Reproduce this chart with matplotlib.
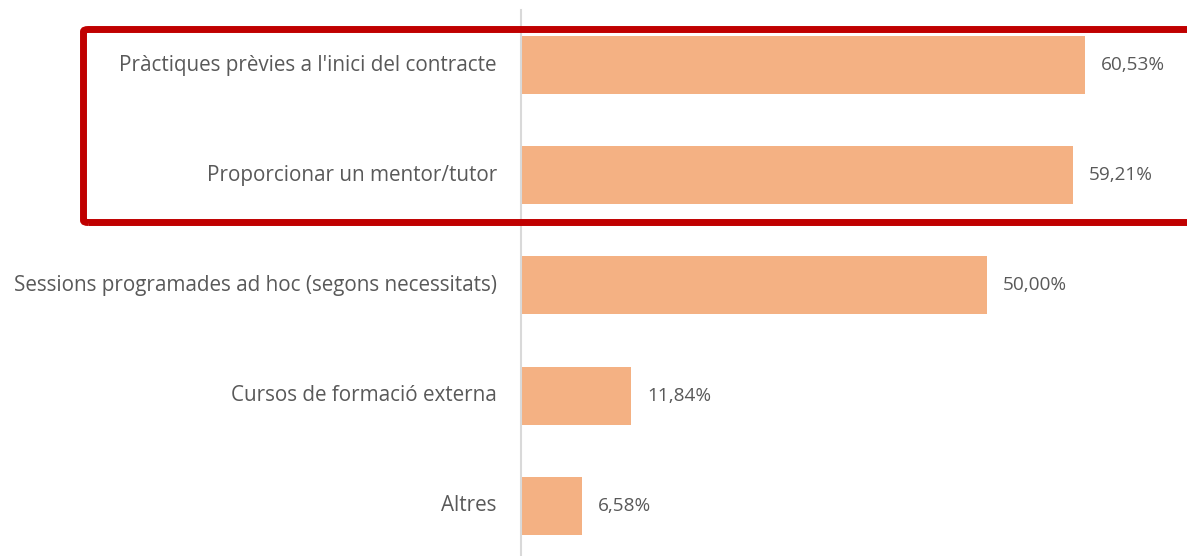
import matplotlib
matplotlib.use("Agg")
import matplotlib.pyplot as plt
from matplotlib.patches import FancyBboxPatch

categories = [
    "Pràctiques prèvies a l'inici del contracte",
    "Proporcionar un mentor/tutor",
    "Sessions programades ad hoc (segons necessitats)",
    "Cursos de formació externa",
    "Altres",
]
values = [60.53, 59.21, 50.00, 11.84, 6.58]

BAR_COLOUR = "#F4B183"
TEXT_COLOUR = "#595959"
AXIS_COLOUR = "#D9D9D9"
FRAME_COLOUR = "#C00000"

plt.rcParams["font.family"] = ["Open Sans", "DejaVu Sans"]

W, H = 1187, 556
fig = plt.figure(figsize=(W / 100, H / 100), dpi=100)
ax = fig.add_axes([521 / W, 0, 666 / W, 546 / H])

y = list(range(len(categories)))
ax.barh(y, values, height=0.526, color=BAR_COLOUR, edgecolor="none")

for yi, v in zip(y, values):
    ax.text(v + 1.7, yi, f"{v:.2f}%".replace(".", ","), va="center", ha="left",
            fontsize=13.7, color=TEXT_COLOUR)

for yi, name in zip(y, categories):
    ax.text(-2.6, yi, name, va="center", ha="right", fontsize=14.9, color=TEXT_COLOUR)

ax.set_xlim(0, 666 / 9.32)
ax.set_ylim(4.454, -0.499)
ax.set_xticks([])
ax.set_yticks([])
for side in ("top", "right", "bottom"):
    ax.spines[side].set_visible(False)
ax.spines["left"].set_color(AXIS_COLOUR)
ax.spines["left"].set_linewidth(1.5)

# red frame around the two top answers
frame = FancyBboxPatch((83.5 / W, (556 - 222.5) / H), 1.1, 193 / H,
                       boxstyle="round,pad=0,rounding_size=0.004",
                       transform=fig.transFigure, fill=False,
                       edgecolor=FRAME_COLOUR, linewidth=5, clip_on=False)
fig.patches.append(frame)

fig.savefig("out.png", dpi=100)
